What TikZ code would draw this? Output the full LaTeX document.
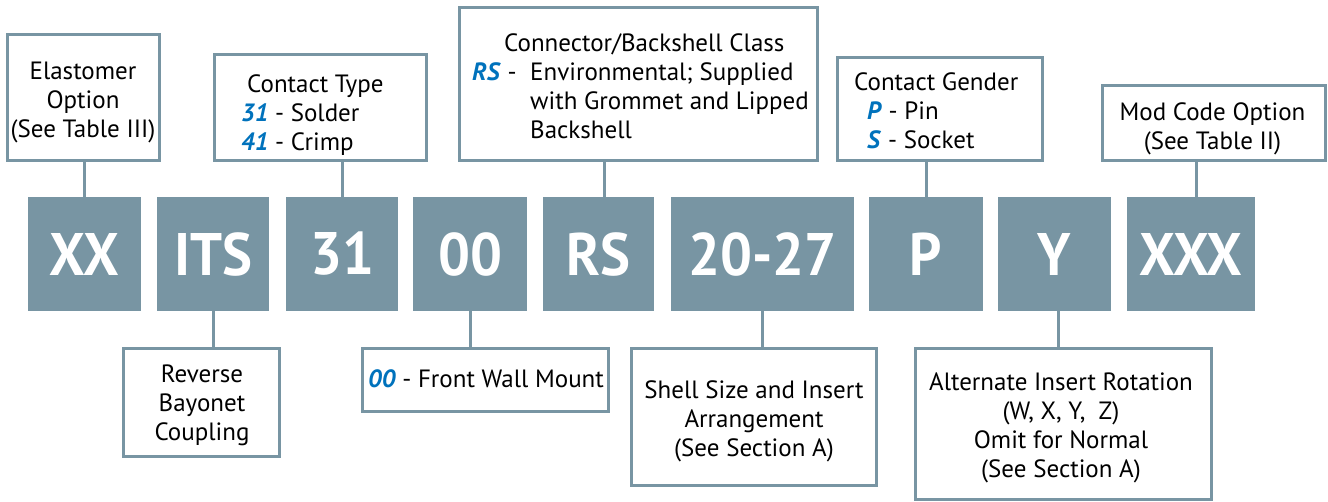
\documentclass[tikz,border=0pt]{standalone}
\usepackage{fontspec}
\setmainfont{PT Sans}
\newfontfamily\codefont[FakeStretch=0.94]{PT Sans}
\usetikzlibrary{positioning}
\definecolor{codegray}{HTML}{7895A3}
\definecolor{optblue}{HTML}{0072BC}
\newcommand{\optcode}[1]{\textcolor{optblue}{\textbf{\textit{#1}}}}

\begin{document}
\begin{tikzpicture}[
    x=1pt, y=-1pt,
    code/.style={fill=codegray, text=white, minimum height=114pt, inner sep=0pt,
        font=\codefont\fontsize{60}{60}\selectfont\bfseries},
    infobox/.style={draw=codegray, line width=3pt, inner sep=0pt},
    info/.style={font=\fontsize{25}{29}\selectfont, inner sep=0pt, anchor=base},
    link/.style={draw=codegray, line width=3pt}
]
    \useasboundingbox (0,0) rectangle (1328,501);

    % Part number row
    \node[code, minimum width=113pt] (xx)  at (84.5,254)  {XX};
    \node[code, minimum width=112pt] (its) at (213,254)   {ITS};
    \node[code, minimum width=112pt] (ct)  at (342,254)   {31};
    \node[code, minimum width=114pt] (mnt) at (470,254)   {00};
    \node[code, minimum width=111pt] (cls) at (598.5,254) {RS};
    \node[code, minimum width=183pt] (sz)  at (762.5,254) {20-27};
    \node[code, minimum width=114pt] (gen) at (926,254)   {P};
    \node[code, minimum width=113pt] (rot) at (1054.5,254) {Y};
    \node[code, minimum width=128pt] (mod) at (1191,254)  {XXX};

    % Upper boxes
    \node[infobox, minimum width=152pt, minimum height=126pt] (elastBox) at (83.5,97.5) {};
    \node[infobox, minimum width=212pt, minimum height=106pt] (ctBox) at (320.5,107.5) {};
    \node[infobox, minimum width=358pt, minimum height=153pt] (clsBox) at (638.5,84) {};
    \node[infobox, minimum width=205pt, minimum height=103pt] (genBox) at (940,109) {};
    \node[infobox, minimum width=223pt, minimum height=75pt] (modBox) at (1214,123) {};

    % Lower boxes
    \node[infobox, minimum width=156pt, minimum height=108pt] (itsBox) at (201.5,402.5) {};
    \node[infobox, minimum width=246pt, minimum height=63pt] (mntBox) at (485.5,380) {};
    \node[infobox, minimum width=245pt, minimum height=137pt] (szBox) at (754,417) {};
    \node[infobox, minimum width=296pt, minimum height=151pt] (rotBox) at (1063.5,424) {};

    % Texts (placed at the baseline of their last line)
    \node[info, align=center] (elastTxt) at (83,137)
        {Elastomer\\Option\\(See Table III)};
    \node[info, anchor=base west, align=left] (ctTxt) at (241,150)
        {\hspace*{6pt}Contact Type\\\optcode{31} - Solder\\\optcode{41} - Crimp};
    \node[info, anchor=base west, align=left] (clsTxt) at (472,138)
        {\hspace*{32pt}Connector/Backshell Class\\
         \makebox[58pt][l]{\optcode{RS} -}Environmental; Supplied\\
         \hspace*{58pt}with Grommet and Lipped\\
         \hspace*{58pt}Backshell};
    \node[info, anchor=base west, align=left] (genTxt) at (854,148)
        {Contact Gender\\\hspace*{13pt}\optcode{P} - Pin\\\hspace*{13pt}\optcode{S} - Socket};
    \node[info, align=center] (modTxt) at (1212.5,149)
        {Mod Code Option\\(See Table II)};
    \node[info, align=center] (itsTxt) at (202,440)
        {Reverse\\Bayonet\\Coupling};
    \node[info, align=center] (mntTxt) at (486,387)
        {\optcode{00} - Front Wall Mount};
    \node[info, align=center] (szTxt) at (754,456)
        {Shell Size and Insert\\Arrangement\\(See Section A)};
    \node[info, align=center] (rotTxt) at (1061,477)
        {Alternate Insert Rotation\\(W, X, Y,~ Z)\\Omit for Normal\\(See Section A)};

    % Connectors
    \draw[link] (xx.north)  -- (xx.north |- elastBox.south);
    \draw[link] (ct.north)  -- (ct.north |- ctBox.south);
    \draw[link] (cls.north) ++(6,0) coordinate (clsTop) -- (clsTop |- clsBox.south);
    \draw[link] (gen.north) -- (gen.north |- genBox.south);
    \draw[link] (mod.north) ++(5,0) coordinate (modTop) -- (modTop |- modBox.south);
    \draw[link] (its.south) -- (its.south |- itsBox.north);
    \draw[link] (mnt.south) -- (mnt.south |- mntBox.north);
    \draw[link] (sz.south)  -- (sz.south |- szBox.north);
    \draw[link] (rot.south) ++(4,0) coordinate (rotBot) -- (rotBot |- rotBox.north);
\end{tikzpicture}
\end{document}
